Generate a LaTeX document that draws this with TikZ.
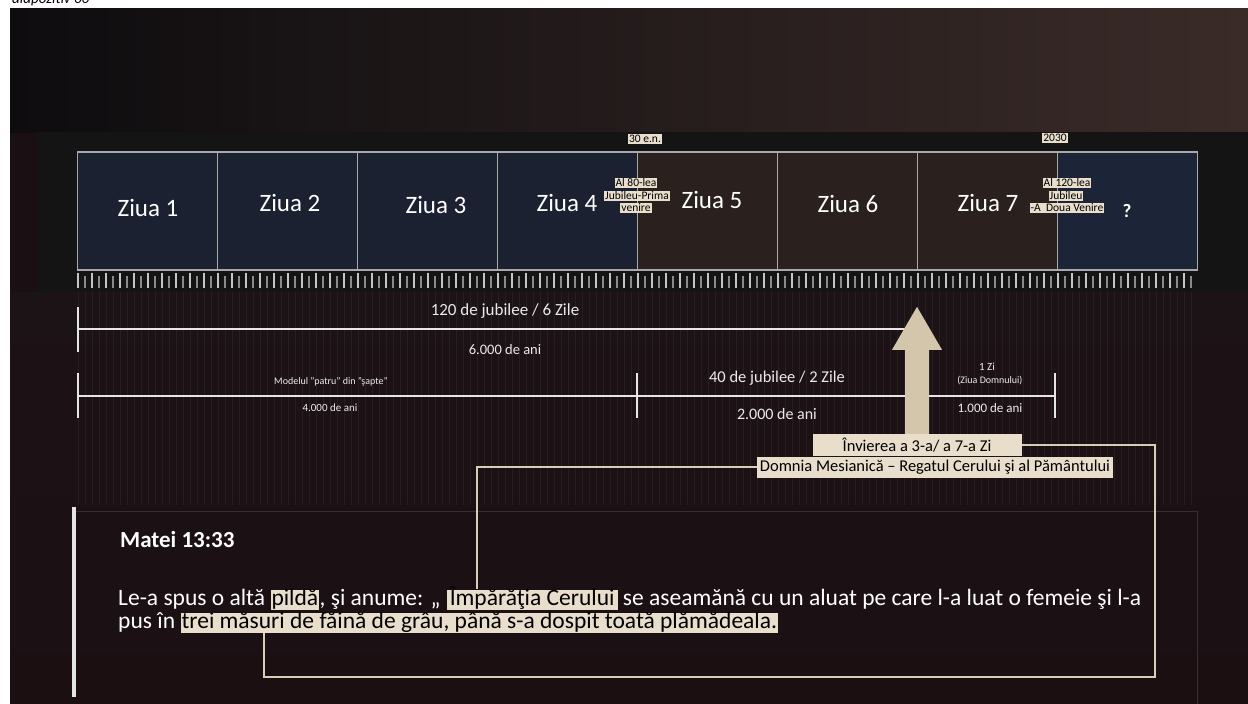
\documentclass[tikz,border=0pt]{standalone}
\usepackage{fontspec}
\setmainfont{Carlito}
\usetikzlibrary{calc}
\definecolor{bgbase}{HTML}{1A1013}
\definecolor{bgtopL}{HTML}{0E0C0F}
\definecolor{bgtopR}{HTML}{3A2B28}
\definecolor{band}{HTML}{151415}
\definecolor{lowA}{HTML}{1C1316}
\definecolor{lowB}{HTML}{1B0F12}
\definecolor{dayblue}{HTML}{1B2130}
\definecolor{daybrown}{HTML}{2A201E}
\definecolor{dayblue2}{HTML}{1C2437}
\definecolor{boxline}{HTML}{A9A9A9}
\definecolor{tagc}{HTML}{E8DECB}
\definecolor{arrowc}{HTML}{D3C6AB}
\definecolor{linkc}{HTML}{D9CDB5}
\definecolor{rulec}{HTML}{E6E6E6}
\definecolor{faint}{HTML}{3A2D31}
\begin{document}
\begin{tikzpicture}[x=1pt,y=-1pt,
  every node/.style={inner sep=0pt},
  daybox/.style={draw=boxline, line width=1.5pt, minimum width=140pt, minimum height=118pt},
  daylbl/.style={text=white, font=\fontsize{25}{28}\selectfont},
  tag/.style={fill=tagc, text=black, font=\fontsize{11.5}{12}\selectfont, inner xsep=1pt, inner ysep=1pt},
  lbl/.style={text=white!92!black, font=\fontsize{16}{18}\selectfont},
  slbl/.style={text=white!92!black, font=\fontsize{11}{13}\selectfont},
  rule/.style={draw=rulec, line width=2.5pt},
  body/.style={text=white, font=\fontsize{23.5}{24}\selectfont},
  hl/.style={fill=tagc, text=black, font=\fontsize{23.5}{24}\selectfont, text height=15.5pt, text depth=4.5pt, inner xsep=1pt},
  bigbox/.style={fill=tagc, text=black, font=\fontsize{16.5}{18}\selectfont},
  link/.style={draw=linkc, line width=2pt}
]
\useasboundingbox (0,0) rectangle (1248,704);
\fill[white] (0,0) rectangle (1248,704);
% clipped caption at top
\begin{scope}
\clip (0,0) rectangle (1248,8);
\node[anchor=base west, font=\itshape\fontsize{15}{16}\selectfont, text=black] (cap) at (12,4) {diapozitiv 60};
\end{scope}
% background
\fill[bgbase] (10,8) rectangle (1248,704);
\shade[left color=bgtopL, right color=bgtopR] (10,8) rectangle (1248,132);
\fill[band] (38,132) rectangle (1248,292);
\shade[top color=lowA, bottom color=lowB] (10,292) rectangle (1248,704);
% faint vertical stripes
\foreach \i in {0,...,159} {
  \draw[white, opacity=0.05, line width=1pt] (78+7*\i,292) -- (78+7*\i,505);
}
% day boxes
\node[daybox, fill=dayblue]  (d1) at (147.5,211) {};
\node[daybox, fill=dayblue]  (d2) at (287.5,211) {};
\node[daybox, fill=dayblue]  (d3) at (427.5,211) {};
\node[daybox, fill=dayblue]  (d4) at (567.5,211) {};
\node[daybox, fill=daybrown] (d5) at (707.5,211) {};
\node[daybox, fill=daybrown] (d6) at (847.5,211) {};
\node[daybox, fill=daybrown] (d7) at (987.5,211) {};
\node[daybox, fill=dayblue2] (d8) at (1127.5,211) {};
\node[daylbl] (z1) at (148,208) {Ziua 1};
\node[daylbl] (z2) at (290,203) {Ziua 2};
\node[daylbl] (z3) at (436,205) {Ziua 3};
\node[daylbl] (z4) at (567,203) {Ziua 4};
\node[daylbl] (z5) at (712,200) {Ziua 5};
\node[daylbl] (z6) at (848,204) {Ziua 6};
\node[daylbl] (z7) at (988,203) {Ziua 7};
\node[daylbl, font=\bfseries\fontsize{19}{20}\selectfont] (z8) at (1127,211) {?};
% tags
\node[tag] (t30) at (645,139) {30 e.n.};
\node[tag] (t2030) at (1055,138) {2030};
\node[tag] (t80a) at (636,183) {Al 80-lea};
\node[tag] (t80b) at (637,196) {Jubileu-Prima};
\node[tag] (t80c) at (636,208) {venire};
\node[tag] (t120a) at (1067,183) {Al 120-lea};
\node[tag] (t120b) at (1066,196) {Jubileu};
\node[tag] (t120c) at (1067,208) {-A\ \ Doua Venire};
% ruler ticks
\foreach \i in {0,...,79} {
  \draw[rulec!85!black, line width=1.2pt] (78+14*\i,273) -- (78+14*\i,288);
  \draw[rulec!60!black, line width=1.2pt] (85+14*\i,276) -- (85+14*\i,288);
}
% bracket 1
\coordinate (b1L) at (78,329);
\coordinate (b1R) at (917,329);
\draw[rule] (b1L) -- (b1R);
\draw[rule] (78,307) -- (78,352);
\node[lbl, font=\fontsize{17}{19}\selectfont] (l120) at (505,311) {120 de jubilee / 6 Zile};
\node[lbl, font=\fontsize{14.5}{16}\selectfont] (l6000) at (505,350) {6.000 de ani};
% bracket 2
\coordinate (b2L) at (78,396);
\coordinate (b2M) at (637,396);
\coordinate (b2R) at (1055,396);
\draw[rule] (b2L) -- (b2R);
\draw[rule] (78,373) -- (78,418);
\draw[rule] (637,373) -- (637,418);
\draw[rule] (1055,373) -- (1055,418);
\node[slbl, font=\fontsize{10}{12}\selectfont] (lmod) at (331,382) {Modelul "patru" din "şapte"};
\node[slbl] (l4000) at (330,408) {4.000 de ani};
\node[lbl, font=\fontsize{16.5}{18}\selectfont] (l40) at (777,378) {40 de jubilee / 2 Zile};
\node[lbl] (l2000) at (777,414) {2.000 de ani};
\node[slbl] (l1zi) at (987,367) {1 Zi};
\node[slbl, font=\fontsize{10}{12}\selectfont] (lzd) at (990,381) {(Ziua Domnului)};
\node[lbl, font=\fontsize{13}{15}\selectfont] (l1000) at (990,408) {1.000 de ani};
% text boxes near arrow
\node[bigbox, minimum width=356pt, minimum height=21pt] (dom) at (935,467) {Domnia Mesianică – Regatul Cerului şi al Pământului};
\node[bigbox, minimum width=209pt, minimum height=22pt] (inv) at (917,445) {Învierea a 3-a/ a 7-a Zi};
% arrow
\fill[arrowc] ($(inv.north)+(-12,0)$) -- ($(inv.north)+(-12,-84)$) -- ($(inv.north)+(-25,-84)$)
  -- ($(inv.north)+(0,-127)$) -- ($(inv.north)+(25,-84)$) -- ($(inv.north)+(12,-84)$)
  -- ($(inv.north)+(12,0)$) -- cycle;
% bottom panel
\draw[faint, line width=1pt] (76,511) -- (1197,511) -- (1197,704);
\fill[white!90!black] (72,507) rectangle (76,697);
\node[anchor=base west, text=white, font=\bfseries\fontsize{23}{26}\selectfont] (mt) at (120,547) {Matei 13:33};
% body line 1
\node[body, anchor=base west] (s1) at (118,605) {Le-a spus o altă};
\node[hl, anchor=base west] (pil) at ([xshift=5]s1.base east) {pildă};
\node[body, anchor=base west] (s2) at (pil.base east) {, şi anume: „};
\node[hl, anchor=base west, inner xsep=3pt] (imp) at ([xshift=6]s2.base east) {Împărăţia Cerului};
\node[body, anchor=base west] (s3) at ([xshift=5]imp.base east) {se aseamănă cu un aluat pe care l-a luat o femeie şi l-a};
% body line 2
\node[body, anchor=base west] (s4) at (118,628) {pus în};
\node[hl, anchor=base west] (trei) at ([xshift=5]s4.base east) {trei măsuri de făină de grâu, până s-a dospit toată plămădeala.};
% connectors
\coordinate (cimp) at ([xshift=30]imp.north west);
\coordinate (ctrei) at ([xshift=84]trei.south west);
\coordinate (rc) at (1155,677);
\draw[link] (dom.west) -| (cimp);
\draw[link] (inv.east) -| (rc) -| (ctrei);
\end{tikzpicture}
\end{document}
